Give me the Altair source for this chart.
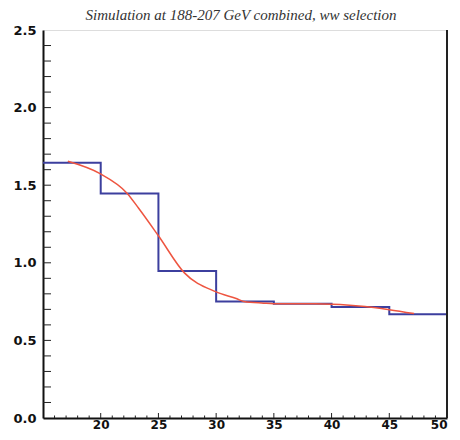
import altair as alt
import pandas as pd

# Histogram (bin edges and contents)
bin_edges = [15, 20, 25, 30, 35, 40, 45, 50]
bin_vals = [1.645, 1.447, 0.947, 0.751, 0.736, 0.715, 0.668]

# Fitted curve
fit_x = [17.15, 19.9, 22.3, 23.27, 25.0, 27.25, 29.95, 31.8, 32.4, 34.1, 35.0, 38.6, 42.9, 45.0, 47.15]
fit_y = [1.654, 1.576, 1.447, 1.353, 1.174, 0.935, 0.814, 0.768, 0.751, 0.740, 0.736, 0.736, 0.719, 0.698, 0.673]

# Axis ticks
x_labels = [20, 25, 30, 35, 40, 45, 50]
y_labels = [0.0, 0.5, 1.0, 1.5, 2.0, 2.5]
x_minor = [v for v in range(16, 50) if v % 5 != 0]
x_major = [20, 25, 30, 35, 40, 45]
y_minor = [round(0.1 * i, 1) for i in range(1, 25)]

TITLE = "Simulation at 188-207 GeV combined, ww selection"
W, H = 404, 388

hist_df = pd.DataFrame({"x": bin_edges, "y": bin_vals + [bin_vals[-1]]})
fit_df = pd.DataFrame({"x": fit_x, "y": fit_y})

xscale = alt.Scale(domain=[15, 50], nice=False, zero=False)
yscale = alt.Scale(domain=[0, 2.5], nice=False)
xax = alt.Axis(values=x_labels, format="d", title=None, ticks=False, grid=False,
               labelFont="DejaVu Sans", labelFontWeight="bold", labelFontSize=12,
               labelColor="#111", labelPadding=1, domainColor="#111", domainWidth=2,
               labelFlush=True)
yax = alt.Axis(values=y_labels, format=".1f", title=None, ticks=False, grid=False,
               labelFont="DejaVu Sans", labelFontWeight="bold", labelFontSize=13,
               labelColor="#111", labelPadding=7, domainColor="#111", domainWidth=2,
               labelFlush=False)

hist = alt.Chart(hist_df).mark_line(interpolate="step-after", color="#3c3f9e", strokeWidth=2).encode(
    x=alt.X("x:Q", scale=xscale, axis=xax),
    y=alt.Y("y:Q", scale=yscale, axis=yax),
)
fit = alt.Chart(fit_df).mark_line(interpolate="monotone", color="#ee5540", strokeWidth=1.5).encode(
    x=alt.X("x:Q", scale=xscale, axis=xax),
    y=alt.Y("y:Q", scale=yscale, axis=yax),
)

yt = alt.Chart(pd.DataFrame({"y": y_minor})).mark_rule(color="#222", strokeWidth=1).encode(
    y=alt.Y("y:Q", scale=yscale, axis=yax),
    x=alt.value(0), x2=alt.value(8),
)
xtm = alt.Chart(pd.DataFrame({"x": x_minor})).mark_rule(color="#222", strokeWidth=1).encode(
    x=alt.X("x:Q", scale=xscale, axis=xax),
    y=alt.value(H), y2=alt.value(H - 2.5),
)
xtM = alt.Chart(pd.DataFrame({"x": x_major})).mark_rule(color="#222", strokeWidth=1).encode(
    x=alt.X("x:Q", scale=xscale, axis=xax),
    y=alt.value(H), y2=alt.value(H - 5),
)
right = alt.Chart(pd.DataFrame({"x": [50]})).mark_rule(color="#222", strokeWidth=2).encode(
    x=alt.value(W), y=alt.value(0), y2=alt.value(H),
)

chart = alt.layer(hist, fit, yt, xtm, xtM, right).properties(
    width=W, height=H,
    autosize=alt.AutoSizeParams(type="none"),
    padding={"left": 35, "top": 22, "right": 5, "bottom": 14},
    title=alt.TitleParams(TITLE, font="Liberation Serif", fontStyle="italic", fontWeight="normal",
                          fontSize=15, color="#333", offset=1, dx=-4, anchor="middle"),
).configure_view(stroke="#333", strokeWidth=1).configure(background="white")

chart.save("out.html", embed_options={"renderer": "svg", "actions": False})
